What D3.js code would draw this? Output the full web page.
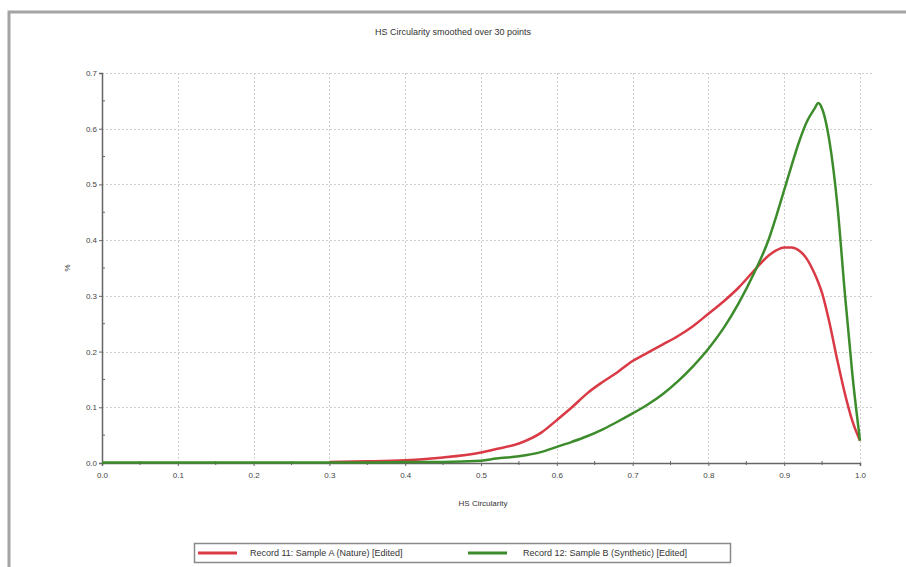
<!DOCTYPE html>
<html>
<head>
<meta charset="utf-8">
<script src="https://cdn.jsdelivr.net/npm/d3@7"></script>
<style>
  html, body { margin: 0; padding: 0; background: #fff; }
  svg { display: block; font-family: "Liberation Sans", Arial, sans-serif; }
</style>
</head>
<body>
<svg id="chart" width="906" height="567"></svg>
<script>
// HS circularity bins (x) and smoothed frequency (%) for each record
const circularity = [0.00, 0.10, 0.20, 0.30, 0.35, 0.40, 0.45, 0.50, 0.52, 0.55, 0.58, 0.60,
  0.62, 0.64, 0.66, 0.68, 0.70, 0.72, 0.74, 0.76, 0.78, 0.80, 0.82, 0.84, 0.86, 0.88,
  0.89, 0.90, 0.91, 0.92, 0.93, 0.94, 0.945, 0.95, 0.96, 0.97, 0.98, 0.99, 1.00];

const natureValues = [null, null, null, 0.002, 0.003, 0.005, 0.010, 0.019, 0.025, 0.035, 0.055, 0.077,
  0.100, 0.125, 0.145, 0.163, 0.183, 0.198, 0.213, 0.228, 0.246, 0.268, 0.290, 0.315, 0.345, 0.373,
  0.382, 0.387, 0.387, 0.381, 0.366, 0.340, 0.324, 0.305, 0.250, 0.185, 0.125, 0.075, 0.040];

const syntheticValues = [0.001, 0.001, 0.001, 0.001, 0.001, 0.002, 0.002, 0.004, 0.008, 0.012, 0.020, 0.029,
  0.038, 0.048, 0.060, 0.074, 0.089, 0.105, 0.124, 0.147, 0.174, 0.205, 0.242, 0.287, 0.340, 0.403,
  0.445, 0.490, 0.535, 0.578, 0.613, 0.636, 0.646, 0.636, 0.575, 0.465, 0.305, 0.158, 0.040];

const seriesNames = ["Record 11: Sample A (Nature) [Edited]", "Record 12: Sample B (Synthetic) [Edited]"];
const seriesColors = ["#d93a45", "#3d8c2c"];

const xTicks = [0.0, 0.1, 0.2, 0.3, 0.4, 0.5, 0.6, 0.7, 0.8, 0.9, 1.0];
const yTicks = [0.0, 0.1, 0.2, 0.3, 0.4, 0.5, 0.6, 0.7];

const svg = d3.select("#chart");

// outer panel frame
svg.append("rect")
  .attr("x", 9).attr("y", 12).attr("width", 920).attr("height", 580)
  .attr("fill", "none").attr("stroke", "#a4a4a4").attr("stroke-width", 3);

const plot = { left: 102, right: 860, top: 73, bottom: 463 };

const x = d3.scaleLinear().domain([0, 1]).range([plot.left, plot.right]);
const y = d3.scaleLinear().domain([0, 0.7]).range([plot.bottom, plot.top]);

// title
svg.append("text")
  .attr("x", 453).attr("y", 35)
  .attr("text-anchor", "middle")
  .attr("font-size", 9).attr("fill", "#333")
  .text("HS Circularity smoothed over 30 points");

// dotted grid
const grid = svg.append("g").attr("stroke", "#cfcfcf").attr("stroke-width", 1).attr("stroke-dasharray", "2,2");
grid.selectAll("line.v").data(xTicks.slice(1)).join("line")
  .attr("x1", d => Math.round(x(d)) + 0.5).attr("x2", d => Math.round(x(d)) + 0.5)
  .attr("y1", plot.top).attr("y2", plot.bottom);
grid.selectAll("line.h").data(yTicks.slice(1)).join("line")
  .attr("x1", plot.left).attr("x2", plot.right + 12)
  .attr("y1", d => Math.round(y(d)) + 0.5).attr("y2", d => Math.round(y(d)) + 0.5);

// axes
const xAxis = d3.axisBottom(x).tickValues(xTicks).tickFormat(d3.format(".1f")).tickSize(3).tickPadding(6);
const yAxis = d3.axisLeft(y).tickValues(yTicks).tickFormat(d3.format(".1f")).tickSize(3).tickPadding(2);

const gx = svg.append("g").attr("transform", `translate(0,${plot.bottom})`).call(xAxis);
const gy = svg.append("g").attr("transform", `translate(${plot.left},0)`).call(yAxis);

[gx, gy].forEach(g => {
  g.select(".domain").attr("stroke", "#666").attr("stroke-width", 1.5);
  g.selectAll(".tick line").attr("stroke", "#666");
  g.selectAll(".tick text").attr("fill", "#444").attr("font-size", 8).attr("font-family", "Liberation Sans, Arial, sans-serif");
});

// minor ticks
const minor = d3.range(0.05, 1, 0.1);
svg.append("g").selectAll("line").data(minor).join("line")
  .attr("x1", d => x(d)).attr("x2", d => x(d))
  .attr("y1", plot.bottom - 2).attr("y2", plot.bottom + 2)
  .attr("stroke", "#666");
svg.append("g").selectAll("line").data(d3.range(0.05, 0.7, 0.1)).join("line")
  .attr("x1", plot.left).attr("x2", plot.left + 3)
  .attr("y1", d => y(d)).attr("y2", d => y(d))
  .attr("stroke", "#666");

// axis titles
svg.append("text")
  .attr("x", 483).attr("y", 506)
  .attr("text-anchor", "middle").attr("font-size", 8).attr("fill", "#333")
  .text("HS Circularity");
svg.append("text")
  .attr("transform", "translate(70,268) rotate(-90)")
  .attr("text-anchor", "middle").attr("font-size", 8).attr("fill", "#333")
  .text("%");

// series lines
const line = d3.line()
  .defined(d => d[1] !== null)
  .x(d => x(d[0])).y(d => y(d[1]))
  .curve(d3.curveMonotoneX);

const series = [natureValues, syntheticValues];
series.forEach((vals, i) => {
  svg.append("path")
    .datum(circularity.map((c, j) => [c, vals[j]]))
    .attr("fill", "none")
    .attr("stroke", seriesColors[i])
    .attr("stroke-width", 2.5)
    .attr("stroke-linejoin", "round")
    .attr("d", line);
});

// legend
const legend = svg.append("g");
legend.append("rect")
  .attr("x", 194.5).attr("y", 543.5).attr("width", 536).attr("height", 19)
  .attr("fill", "#fff").attr("stroke", "#8a8a8a").attr("stroke-width", 1.5);
const legendItems = [
  { x: 198, tx: 250 },
  { x: 468, tx: 523 }
];
legendItems.forEach((it, i) => {
  legend.append("line")
    .attr("x1", it.x).attr("x2", it.x + 39)
    .attr("y1", 553).attr("y2", 553)
    .attr("stroke", seriesColors[i]).attr("stroke-width", 3);
  legend.append("text")
    .attr("x", it.tx).attr("y", 556)
    .attr("font-size", 9).attr("fill", "#333")
    .text(seriesNames[i]);
});
</script>
</body>
</html>
